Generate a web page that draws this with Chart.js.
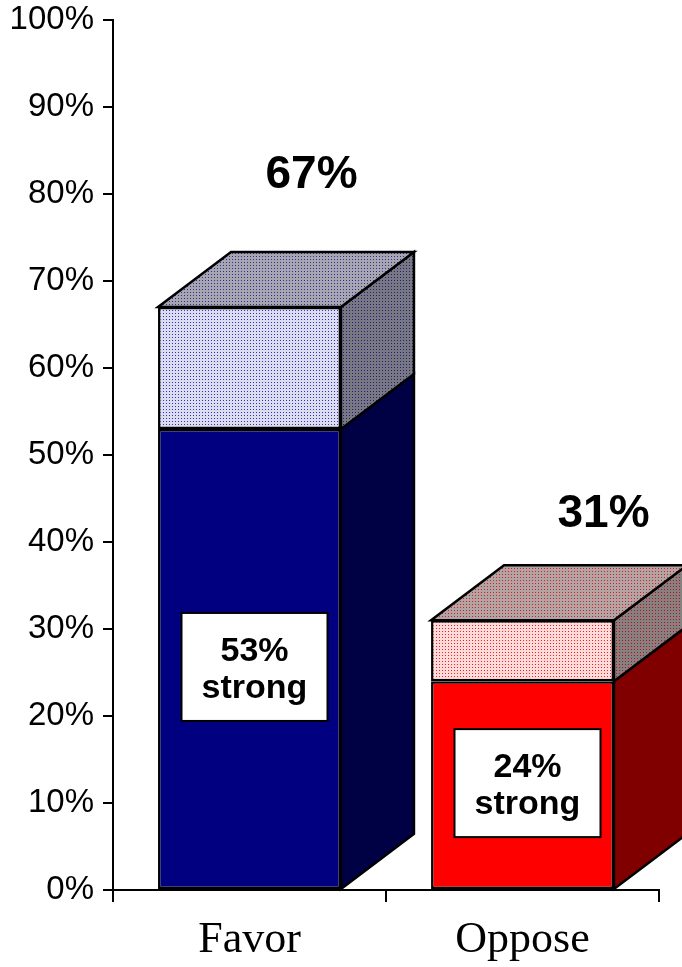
<!DOCTYPE html>
<html>
<head>
<meta charset="utf-8">
<script src="https://cdn.jsdelivr.net/npm/chart.js@4.4.1/dist/chart.umd.min.js"></script>
<style>
    html, body { margin: 0; padding: 0; background: #fff; }
    #wrap { width: 682px; height: 967px; }
</style>
</head>
<body>
<div id="wrap"><canvas id="supportChart" width="682" height="967"></canvas></div>
<script>
// Values
const categories = ["Favor", "Oppose"];
const strongPct = [53, 24];      // "strong" part of each bar
const otherPct = [14, 7];        // rest of the bar up to the total
const totalPct = [67, 31];       // labels above the bars
const yTickStep = 10;

const sansFont = "'Liberation Sans', Arial, sans-serif";
const serifFont = "'Liberation Serif', 'Times New Roman', serif";

const canvas = document.getElementById("supportChart");
const ctx = canvas.getContext("2d");

// small dotted fill like the old office patterns
function dotPattern(bg, dot) {
    const c = document.createElement("canvas");
    c.width = 3;
    c.height = 3;
    const g = c.getContext("2d");
    g.fillStyle = bg;
    g.fillRect(0, 0, 3, 3);
    g.fillStyle = dot;
    g.fillRect(1, 1, 1, 1);
    return ctx.createPattern(c, "repeat");
}

const strongFront = ["#000080", "#ff0000"];
const strongSide = ["#000045", "#800000"];
const otherFront = [dotPattern("#dcdcf0", "#3434b0"), dotPattern("#ffdcdc", "#ff1818")];
const otherSide = [dotPattern("#787884", "#20206a"), dotPattern("#888080", "#b01818")];
const otherTop = [dotPattern("#a6a6b2", "#303084"), dotPattern("#b2a4a4", "#d02020")];

function poly(c, pts, fill) {
    c.beginPath();
    c.moveTo(pts[0][0], pts[0][1]);
    for (let k = 1; k < pts.length; k++) c.lineTo(pts[k][0], pts[k][1]);
    c.closePath();
    c.fillStyle = fill;
    c.fill();
    c.stroke();
}

// draws side and top faces plus the labels
const bar3d = {
    id: "bar3d",
    afterDatasetsDraw(chart, args, opts) {
        const c = chart.ctx;
        const dx = opts.depthX, dy = opts.depthY;
        const sides = [strongSide, otherSide];
        const last = chart.data.datasets.length - 1;
        c.save();
        c.lineWidth = 2.5;
        c.strokeStyle = "#000";
        c.lineJoin = "miter";
        chart.data.datasets.forEach((ds, di) => {
            chart.getDatasetMeta(di).data.forEach((bar, i) => {
                const p = bar.getProps(["x", "y", "base", "width"], true);
                const top = Math.min(p.y, p.base), bottom = Math.max(p.y, p.base);
                const xl = p.x - p.width / 2, xr = p.x + p.width / 2;
                poly(c, [[xr, top], [xr + dx, top - dy], [xr + dx, bottom - dy], [xr, bottom]], sides[di][i]);
                if (di === last) {
                    poly(c, [[xl, top], [xl + dx, top - dy], [xr + dx, top - dy], [xr, top]], otherTop[i]);
                }
            });
        });

        const yScale = chart.scales.y;
        const strongBars = chart.getDatasetMeta(0).data;

        // totals above the bars
        c.fillStyle = "#000";
        c.font = "bold 46px " + sansFont;
        c.textAlign = "center";
        c.textBaseline = "middle";
        strongBars.forEach((bar, i) => {
            const s = opts.totalShift[i];
            c.fillText(totalPct[i] + "%", bar.x + s[0], yScale.getPixelForValue(totalPct[i]) + s[1]);
        });

        // "xx% strong" boxes
        strongBars.forEach((bar, i) => {
            const s = opts.boxShift[i];
            const cx = bar.x + s[0];
            const cy = (bar.y + bar.base) / 2 + s[1];
            const w = opts.boxW, h = opts.boxH;
            c.lineWidth = 2;
            c.fillStyle = "#fff";
            c.fillRect(cx - w / 2, cy - h / 2, w, h);
            c.strokeRect(cx - w / 2, cy - h / 2, w, h);
            c.fillStyle = "#000";
            c.font = "bold 34px " + sansFont;
            c.textBaseline = "alphabetic";
            c.fillText(strongPct[i] + "%", cx, cy - 6);
            c.fillText("strong", cx, cy + 31);
        });
        c.restore();
    }
};

new Chart(ctx, {
    type: "bar",
    data: {
        labels: categories,
        datasets: [
            {
                label: "Strong",
                data: strongPct,
                backgroundColor: strongFront,
                borderColor: "#000",
                borderWidth: 2.5,
                borderSkipped: false,
            },
            {
                label: "Other",
                data: otherPct,
                backgroundColor: otherFront,
                borderColor: "#000",
                borderWidth: 2.5,
                borderSkipped: false,
            },
        ],
    },
    options: {
        responsive: false,
        animation: false,
        events: [],
        categoryPercentage: 0.67,
        barPercentage: 1,
        layout: { padding: { top: 20, right: 23, left: 0, bottom: 0 } },
        plugins: {
            legend: { display: false },
            tooltip: { enabled: false },
            bar3d: {
                depthX: 73,
                depthY: 55,
                totalShift: [[62, -132], [81, -106]],
                boxShift: [[5, 8], [5, -2]],
                boxW: 146,
                boxH: 108,
            },
        },
        scales: {
            x: {
                stacked: true,
                grid: { drawOnChartArea: false, tickLength: 12, color: "#000", lineWidth: 2, offset: true },
                border: { color: "#000", width: 2 },
                ticks: { color: "#000", padding: 12, font: { family: serifFont, size: 44 } },
                afterFit(s) { s.height = 77; },
            },
            y: {
                stacked: true,
                min: 0,
                max: 100,
                ticks: {
                    stepSize: yTickStep,
                    color: "#000",
                    padding: 9,
                    font: { family: sansFont, size: 33 },
                    callback: (v) => v + "%",
                },
                grid: { drawOnChartArea: false, tickLength: 10, color: "#000", lineWidth: 2 },
                border: { color: "#000", width: 2 },
                afterFit(s) {
                    s.width = 113;
                    s.paddingTop = 0;
                    s.paddingBottom = 0;
                },
            },
        },
    },
    plugins: [bar3d],
});
</script>
</body>
</html>
